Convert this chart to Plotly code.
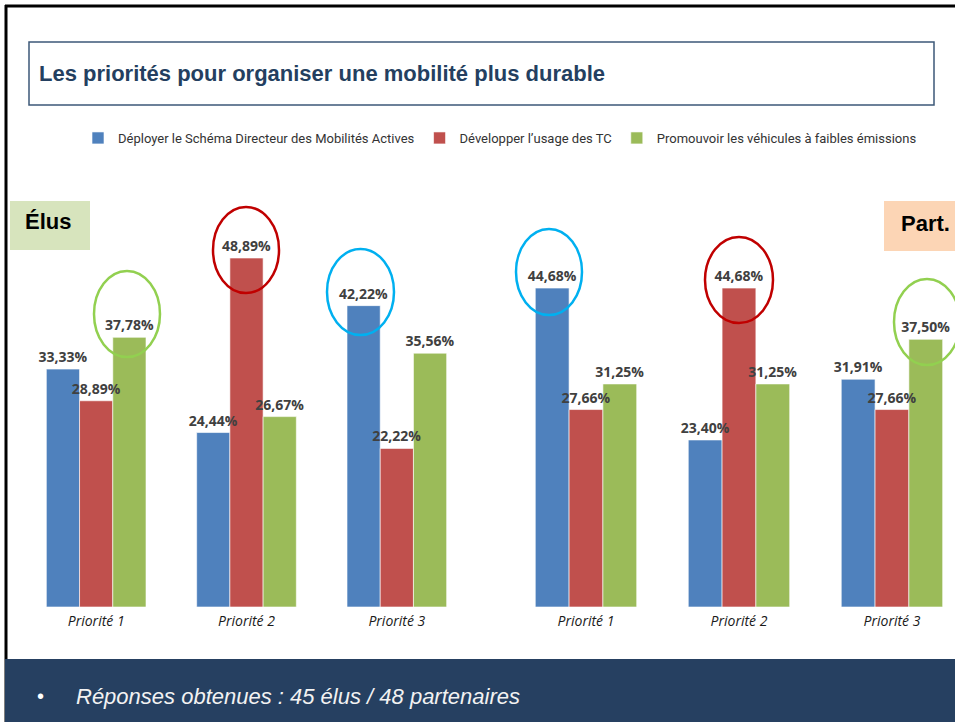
import plotly.graph_objects as go

# ---------------- data ----------------
categories = ["Priorité 1", "Priorité 2", "Priorité 3"]
series_names = [
    "Déployer le Schéma Directeur des Mobilités Actives",
    "Développer l’usage des TC",
    "Promouvoir les véhicules à faibles émissions",
]
series_colors = ["#4f81bd", "#c0504d", "#9bbb59"]

elus_sdma = [33.33, 24.44, 42.22]
elus_tc = [28.89, 48.89, 22.22]
elus_vfe = [37.78, 26.67, 35.56]

part_sdma = [44.68, 23.40, 31.91]
part_tc = [27.66, 44.68, 27.66]
part_vfe = [31.25, 31.25, 37.50]

title_text = "Les priorités pour organiser une mobilité plus durable"
footer_text = "Réponses obtenues : 45 élus / 48 partenaires"

# ---------------- layout helpers ----------------
W, H = 955, 722


def px(x):
    return x / W


def py(y):
    return 1 - y / H


def fmt(v):
    return f"{v:.2f}".replace(".", ",") + "%"


fig = go.Figure()

groups = [
    ("x", [elus_sdma, elus_tc, elus_vfe], True),
    ("x2", [part_sdma, part_tc, part_vfe], False),
]
# visible bars
for xref, values_list, show in groups:
    for k, (name, color, vals) in enumerate(zip(series_names, series_colors, values_list)):
        fig.add_trace(go.Bar(
            x=categories, y=vals, name=name, offsetgroup=str(k),
            marker=dict(color=color, line=dict(color="rgba(255,255,255,0.6)", width=1)),
            xaxis=xref, yaxis="y", showlegend=show, hoverinfo="skip",
        ))
# value labels, drawn on top of every bar (transparent twins sharing the same offset groups)
for xref, values_list, show in groups:
    for k, vals in enumerate(values_list):
        fig.add_trace(go.Bar(
            x=categories, y=vals, offsetgroup=str(k),
            marker=dict(color="rgba(0,0,0,0)", line=dict(width=0)),
            text=[fmt(v) for v in vals], textposition="outside",
            constraintext="none", cliponaxis=False,
            textfont=dict(family="Open Sans", size=14, color="#404040", weight="bold"),
            xaxis=xref, yaxis="y", showlegend=False, hoverinfo="skip",
        ))

axis_common = dict(showgrid=False, zeroline=False, showline=False, ticks="",
                   tickfont=dict(family="Open Sans", size=14, color="#1a1a1a", style="italic"),
                   ticklabelstandoff=4, fixedrange=True)

fig.update_layout(
    width=W, height=H,
    margin=dict(l=0, r=0, t=0, b=0),
    paper_bgcolor="white", plot_bgcolor="rgba(0,0,0,0)",
    barmode="group", bargap=0.337, bargroupgap=0,
    xaxis=dict(domain=[px(21), px(472)], anchor="y", **axis_common),
    xaxis2=dict(domain=[px(509.5), 1], anchor="y", range=[-0.5, 2.412], **axis_common),
    yaxis=dict(domain=[py(607), py(214.4)], range=[0, 55], visible=False, fixedrange=True),
    legend=dict(orientation="h", x=px(500), xanchor="center", y=py(138), yanchor="middle",
                font=dict(family="Roboto", size=13, color="#333333"),
                bgcolor="rgba(0,0,0,0)", itemclick=False, itemdoubleclick=False),
    showlegend=True,
)

shapes = []
annotations = []

# slide borders
shapes.append(dict(type="line", xref="paper", yref="paper", x0=px(5), x1=1, y0=py(6), y1=py(6),
                   line=dict(color="black", width=3)))
shapes.append(dict(type="line", xref="paper", yref="paper", x0=px(6), x1=px(6), y0=py(5), y1=0,
                   line=dict(color="black", width=3)))

# title box
shapes.append(dict(type="rect", xref="paper", yref="paper", x0=px(29), x1=px(934), y0=py(105), y1=py(42),
                   line=dict(color="#3d5878", width=1.5), fillcolor="white", layer="below"))
annotations.append(dict(text=title_text, xref="paper", yref="paper", x=px(37), y=py(73),
                        xanchor="left", yanchor="middle", showarrow=False,
                        font=dict(family="Liberation Sans", size=22, color="#243f60", weight="bold")))

# group tags
shapes.append(dict(type="rect", xref="paper", yref="paper", x0=px(10), x1=px(90), y0=py(250), y1=py(201),
                   line=dict(width=0), fillcolor="#d7e4bd", layer="below"))
annotations.append(dict(text="Élus", xref="paper", yref="paper", x=px(48), y=py(221),
                        xanchor="center", yanchor="middle", showarrow=False,
                        font=dict(family="Liberation Sans", size=22, color="black", weight="bold")))
shapes.append(dict(type="rect", xref="paper", yref="paper", x0=px(884), x1=1.01, y0=py(251), y1=py(201),
                   line=dict(width=0), fillcolor="#fcd5b5", layer="below"))
annotations.append(dict(text="Part.", xref="paper", yref="paper", x=px(925), y=py(223),
                        xanchor="center", yanchor="middle", showarrow=False,
                        font=dict(family="Liberation Sans", size=22, color="black", weight="bold")))

# highlight ellipses (x0, x1, y0, y1 in pixels, colour)
ellipses = [
    (94, 160, 271, 357, "#92d050"),
    (213, 279, 207, 293, "#c00000"),
    (327, 394, 249, 335, "#00b0f0"),
    (516, 582, 229, 315, "#00b0f0"),
    (705, 773, 237, 323, "#c00000"),
    (894, 960, 279, 365, "#92d050"),
]
for x0, x1, y0, y1, c in ellipses:
    shapes.append(dict(type="circle", xref="paper", yref="paper", x0=px(x0), x1=px(x1),
                       y0=py(y1), y1=py(y0), line=dict(color=c, width=2.5)))

# footer band
shapes.append(dict(type="rect", xref="paper", yref="paper", x0=px(5), x1=1, y0=0, y1=py(659),
                   line=dict(width=0), fillcolor="#264061"))
annotations.append(dict(text="•", xref="paper", yref="paper", x=px(40), y=py(696),
                        xanchor="center", yanchor="middle", showarrow=False,
                        font=dict(family="Liberation Sans", size=20, color="white")))
annotations.append(dict(text=footer_text, xref="paper", yref="paper", x=px(74), y=py(696),
                        xanchor="left", yanchor="middle", showarrow=False,
                        font=dict(family="Liberation Sans", size=22, color="#f2f2f2", style="italic")))

fig.update_layout(shapes=shapes, annotations=annotations)

fig.write_html(
    "out.html",
    config={"displayModeBar": False},
    post_script="document.body.style.margin='0';document.body.style.overflow='hidden';",
)
